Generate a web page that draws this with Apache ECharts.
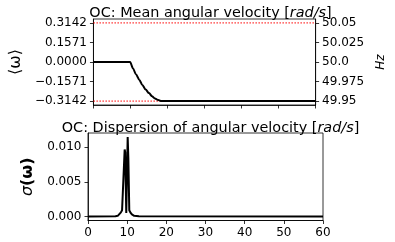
<!DOCTYPE html>
<html><head><meta charset="utf-8">
<script src="https://cdn.jsdelivr.net/npm/echarts@6/dist/echarts.min.js"></script>
<style>html,body{margin:0;padding:0;background:#fff}#c{width:395px;height:242px}</style>
</head><body><div id="c"></div>
<script>
// ---- data ----
const tMean = [0, 9.9, 10.7, 11.5, 12.4, 13.2, 14.1, 15.0, 15.8, 16.6, 17.5, 18.4, 60];
const vMean = [0, 0, -0.052, -0.100, -0.144, -0.185, -0.222, -0.250, -0.275, -0.293, -0.306, -0.3142, -0.3142];
const tSigma = [0, 7.0, 7.6, 8.0, 8.4, 8.7, 9.36, 9.5, 9.77, 10.13, 10.3, 10.54, 10.8, 11.2, 11.8, 13, 60];
const vSigma = [0.00002, 0.00004, 0.0001, 0.0003, 0.0006, 0.0009, 0.0097, 0.0093, 0.0005, 0.0115, 0.0085, 0.0009, 0.0006, 0.0003, 0.0001, 0.00004, 0.00002];
const limitLines = [0.3142, -0.3142];
const xRange = [0, 60];
const meanTicks = [-0.3142, -0.1571, 0, 0.1571, 0.3142];
const hzTicks = [49.95, 49.975, 50.0, 50.025, 50.05];
const hzTickLabels = ['49.95', '49.975', '50.0', '50.025', '50.05'];
const sigmaTicks = [0, 0.005, 0.010];
const sigmaTickLabels = ['0.000', '0.005', '0.010'];
const xTicks = [0, 10, 20, 30, 40, 50, 60];

const FONT = 'DejaVu Sans';
const meanLim = 0.3456;
const hzLim = meanLim / (2 * Math.PI);
const sigmaMax = 0.0115;
const sigMin = -sigmaMax * 0.05, sigMaxLim = sigmaMax * 1.05;

function pickLabel(ticks, labels, v) {
  let best = 0;
  for (let i = 0; i < ticks.length; i++) if (Math.abs(ticks[i] - v) < Math.abs(ticks[best] - v)) best = i;
  return labels[best];
}
const axisLine = {show: true, onZero: false, lineStyle: {color: '#000', width: 0.8}};
const tick = {show: true, inside: false, length: 3.5, lineStyle: {color: '#000', width: 0.8}};
const lab = {color: '#000', fontFamily: FONT, fontSize: 12};

const limitSeries = limitLines.map(y => ({
  type: 'line', xAxisIndex: 0, yAxisIndex: 0, showSymbol: false, symbol: 'none', silent: true, z: 1,
  data: xRange.map(x => [x, y]), lineStyle: {color: '#ff0000', type: [1.5, 1.5], width: 1}
}));

const chart = echarts.init(document.getElementById('c'), null, {renderer: 'canvas'});
chart.setOption({
  animation: false,
  backgroundColor: '#fff',
  title: [
    {text: 'OC: Mean angular velocity [{i|rad/s}]', left: 205.5, top: 1, textAlign: 'center',
     textStyle: {fontFamily: FONT, fontSize: 14.4, fontWeight: 'normal', color: '#000',
       rich: {i: {fontFamily: FONT, fontSize: 14.4, fontStyle: 'italic', color: '#000'}}}},
    {text: 'OC: Dispersion of angular velocity [{i|rad/s}]', left: 205.5, top: 116, textAlign: 'center',
     textStyle: {fontFamily: FONT, fontSize: 14.4, fontWeight: 'normal', color: '#000',
       rich: {i: {fontFamily: FONT, fontSize: 14.4, fontStyle: 'italic', color: '#000'}}}}
  ],
  grid: [
    {left: 88, top: 19, width: 235, height: 86, show: true, borderColor: '#000', borderWidth: 0.8, backgroundColor: 'transparent'},
    {left: 88, top: 133, width: 235, height: 87.5, show: true, borderColor: '#000', borderWidth: 0.8, backgroundColor: 'transparent'}
  ],
  xAxis: [
    {gridIndex: 0, type: 'value', min: 0, max: 60, interval: 10, axisLine, axisTick: tick,
     axisLabel: {show: false}, splitLine: {show: false}},
    {gridIndex: 1, type: 'value', min: 0, max: 60, interval: 10, axisLine, axisTick: tick,
     axisLabel: Object.assign({margin: 6, customValues: xTicks}, lab), splitLine: {show: false}}
  ],
  yAxis: [
    {gridIndex: 0, type: 'value', min: -meanLim, max: meanLim, axisLine, splitLine: {show: false},
     axisTick: Object.assign({customValues: meanTicks}, tick),
     axisLabel: Object.assign({margin: 6.5, customValues: meanTicks,
       formatter: v => (v < -1e-9 ? '\u2212' : '') + Math.abs(v).toFixed(4)}, lab),
     name: '⟨ω⟩', nameLocation: 'middle', nameRotate: 90, nameGap: 66,
     nameTextStyle: {fontFamily: FONT, fontSize: 16, color: '#000'}},
    {gridIndex: 0, type: 'value', position: 'right', min: 50 - hzLim, max: 50 + hzLim, axisLine, splitLine: {show: false},
     axisTick: Object.assign({customValues: hzTicks}, tick),
     axisLabel: Object.assign({margin: 6.5, customValues: hzTicks,
       formatter: v => pickLabel(hzTicks, hzTickLabels, v)}, lab),
     name: 'Hz', nameLocation: 'middle', nameRotate: 90, nameGap: 50,
     nameTextStyle: {fontFamily: FONT, fontSize: 12, fontStyle: 'italic', color: '#000'}},
    {gridIndex: 1, type: 'value', min: sigMin, max: sigMaxLim, axisLine, splitLine: {show: false},
     axisTick: Object.assign({customValues: sigmaTicks}, tick),
     axisLabel: Object.assign({margin: 6.5, customValues: sigmaTicks,
       formatter: v => pickLabel(sigmaTicks, sigmaTickLabels, v)}, lab),
     name: '{s|σ}{b|(ω)}', nameLocation: 'middle', nameRotate: 90, nameGap: 48,
     nameTextStyle: {fontFamily: FONT, fontSize: 16, color: '#000',
       rich: {s: {fontFamily: FONT, fontSize: 16, fontStyle: 'italic', color: '#000'},
              b: {fontFamily: FONT, fontSize: 16, fontWeight: 'bold', color: '#000'}}}}
  ],
  series: limitSeries.concat([
    {type: 'line', xAxisIndex: 0, yAxisIndex: 0, showSymbol: false, symbol: 'none', z: 3,
     smooth: 0.3, smoothMonotone: 'x',
     data: tMean.map((t, i) => [t, vMean[i]]), lineStyle: {color: '#000', width: 2}},
    {type: 'line', xAxisIndex: 1, yAxisIndex: 2, showSymbol: false, symbol: 'none',
     data: tSigma.map((t, i) => [t, vSigma[i]]), lineStyle: {color: '#000', width: 2}}
  ])
});
</script></body></html>
